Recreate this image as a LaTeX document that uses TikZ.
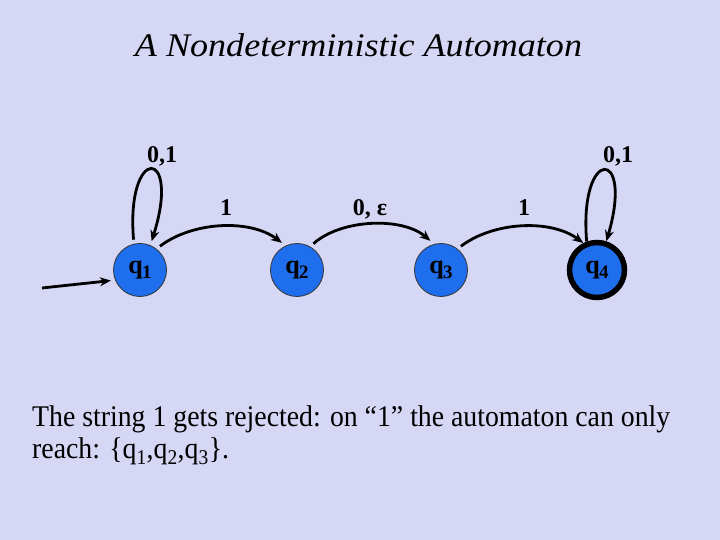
\documentclass[tikz,border=0pt]{standalone}
\usepackage{fontspec}
\setmainfont{Liberation Serif}[ItalicFont={Liberation Serif Italic}, BoldFont={Liberation Serif Bold}]
\newfontfamily\titlefont{Liberation Serif Italic}
\usetikzlibrary{arrows.meta}
\definecolor{bgc}{RGB}{214,215,245}
\definecolor{stblue}{RGB}{30,110,238}
\tikzset{
  state/.style={circle, fill=stblue, draw=black!80, line width=0.8pt, minimum size=53pt, inner sep=0pt, outer sep=4.5pt,
    font=\fontsize{26}{26}\selectfont\bfseries},
  accst/.style={state, draw=black, line width=5.5pt, minimum size=55pt, outer sep=2.75pt},
  edge/.style={line width=2.8pt, -{Stealth[length=11pt,width=9pt]}},
  lab/.style={font=\fontsize{24}{24}\selectfont\bfseries, anchor=base, inner sep=0pt}
}
\newcommand{\qsub}[1]{q\kern-0.5pt\raisebox{-0.2em}{\fontsize{19}{19}\selectfont #1}}
\begin{document}
\begin{tikzpicture}[x=1pt,y=1pt]
\fill[bgc] (0,0) rectangle (720,540);
\useasboundingbox (0,0) rectangle (720,540);
\node[font=\fontsize{33}{33}\selectfont\titlefont, anchor=base, inner sep=0pt] (title) at (358.5,483)
  {\resizebox{447pt}{\height}{A Nondeterministic Automaton}};
\node[state] (q1) at (140,270) {\qsub{1}};
\node[state] (q2) at (297,270) {\qsub{2}};
\node[state] (q3) at (441,270) {\qsub{3}};
\node[accst] (q4) at (597,270) {\qsub{4}};
\coordinate (init) at (42,252);
\draw[edge] (init) -- (q1.200);
\draw[edge] (q1.102) .. controls +(-8,95) and +(30,95) .. (q1.68);
\draw[edge] (q4.110) .. controls +(-8,95) and +(28,95) .. (q4.72);
\draw[edge] (q1.50) .. controls +(33,25) and +(-32,24) .. (q2.119);
\draw[edge] (q2.58) .. controls +(28,25) and +(-28,24) .. (q3.110);
\draw[edge] (q3.50) .. controls +(33,25) and +(-32,24) .. (q4.117);
\node[lab] (l1) at (162,377) {0,1};
\node[lab] (l4) at (618,377) {0,1};
\node[lab] (l12) at (226,324) {1};
\node[lab] (l23) at (370,324) {0, ε};
\node[lab] (l34) at (524,324) {1};
\node[anchor=base west, inner sep=0pt, font=\fontsize{30}{32}\selectfont] (txt) at (32,113)
  {\resizebox{638pt}{\height}{\begin{tabular}[t]{@{}l@{}}The string 1 gets rejected: on “1” the automaton can only\\
  reach: \{q\textsubscript{1},q\textsubscript{2},q\textsubscript{3}\}.\end{tabular}}};
\end{tikzpicture}
\end{document}
